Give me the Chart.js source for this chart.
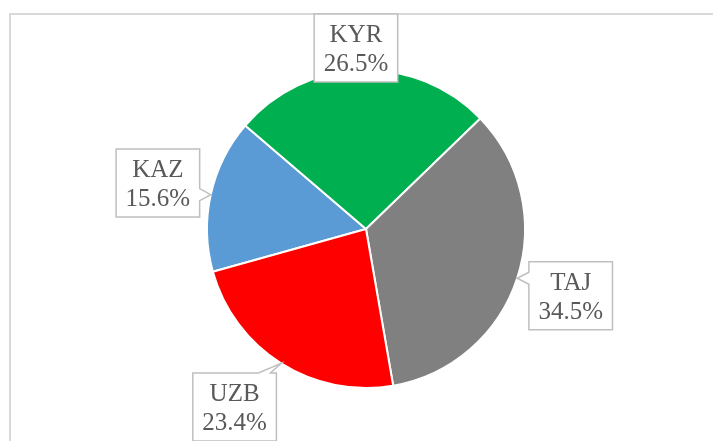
<!DOCTYPE html>
<html lang="en">
<head>
  <meta charset="utf-8" />
  <title>Pie chart</title>
  <style>
    html, body { margin: 0; padding: 0; background: #fff; }
    #wrap { width: 713px; height: 441px; }
  </style>
  <script src="https://cdn.jsdelivr.net/npm/chart.js"></script>
</head>
<body>
  <div id="wrap"><canvas id="pie" width="713" height="441"></canvas></div>
  <script>
    const labels = ['KAZ', 'KYR', 'TAJ', 'UZB'];
    const shares = [15.6, 26.5, 34.5, 23.4];
    const colors = ['#5B9BD5', '#00B050', '#808080', '#FF0000'];

    const FONT = '25px "Liberation Serif", "Times New Roman", serif';
    const LINE_H = 29;

    // outer frame of the chart area (only top and left edges are visible)
    const framePlugin = {
      id: 'frame',
      beforeDraw(chart) {
        const ctx = chart.ctx;
        ctx.save();
        ctx.strokeStyle = '#d9d9d9';
        ctx.lineWidth = 2;
        ctx.beginPath();
        ctx.moveTo(10, chart.height + 5);
        ctx.lineTo(10, 14);
        ctx.lineTo(chart.width + 5, 14);
        ctx.stroke();
        ctx.restore();
      }
    };

    // callout boxes: name + percent, placed outside the slice
    const calloutPlugin = {
      id: 'callouts',
      afterDatasetsDraw(chart, args, opts) {
        const ctx = chart.ctx;
        const meta = chart.getDatasetMeta(0);
        const nudge = opts.nudge || [];
        ctx.save();
        ctx.font = FONT;
        meta.data.forEach((arc, i) => {
          const p = arc.getProps(['x', 'y', 'startAngle', 'endAngle', 'outerRadius'], true);
          const mid = (p.startAngle + p.endAngle) / 2;
          const ux = Math.cos(mid), uy = Math.sin(mid);
          const lines = [labels[i], shares[i].toFixed(1) + '%'];
          const tw = Math.max(...lines.map(s => ctx.measureText(s).width));
          const w = tw + 19, h = 68;
          const ext = Math.abs(ux) * w / 2 + Math.abs(uy) * h / 2;
          const d = p.outerRadius + 6 + ext;
          let cx = p.x + ux * d, cy = p.y + uy * d;
          // keep inside frame
          if (cy - h / 2 < 14) cy = 14 + h / 2;
          if (cy + h / 2 > chart.height) cy = chart.height - h / 2;
          if (nudge[i]) { cx += nudge[i][0]; cy += nudge[i][1]; }
          const L = cx - w / 2, R = cx + w / 2, T = cy - h / 2, B = cy + h / 2;
          const tx = p.x + ux * p.outerRadius, ty = p.y + uy * p.outerRadius;

          let side = null;
          if (ty < T) side = 'top';
          else if (ty > B) side = 'bottom';
          else if (tx > R) side = 'right';
          else if (tx < L) side = 'left';
          const nw = 6, m = 12;
          const clampX = v => Math.min(Math.max(v, L + m), R - m);
          const clampY = v => Math.min(Math.max(v, T + m), B - m);

          ctx.beginPath();
          ctx.moveTo(L, T);
          if (side === 'top') {
            const nx = clampX(tx);
            ctx.lineTo(nx - nw, T); ctx.lineTo(tx, ty); ctx.lineTo(nx + nw, T);
          }
          ctx.lineTo(R, T);
          if (side === 'right') {
            const ny = clampY(ty);
            ctx.lineTo(R, ny - nw); ctx.lineTo(tx, ty); ctx.lineTo(R, ny + nw);
          }
          ctx.lineTo(R, B);
          if (side === 'bottom') {
            const nx = clampX(tx);
            ctx.lineTo(nx + nw, B); ctx.lineTo(tx, ty); ctx.lineTo(nx - nw, B);
          }
          ctx.lineTo(L, B);
          if (side === 'left') {
            const ny = clampY(ty);
            ctx.lineTo(L, ny + nw); ctx.lineTo(tx, ty); ctx.lineTo(L, ny - nw);
          }
          ctx.closePath();
          ctx.fillStyle = '#ffffff';
          ctx.fill();
          ctx.strokeStyle = '#bfbfbf';
          ctx.lineWidth = 1.5;
          ctx.stroke();

          ctx.fillStyle = '#595959';
          ctx.textAlign = 'center';
          ctx.textBaseline = 'alphabetic';
          ctx.fillText(lines[0], cx, cy - 6);
          ctx.fillText(lines[1], cx, cy + 23);
        });
        ctx.restore();
      }
    };

    new Chart(document.getElementById('pie'), {
      type: 'pie',
      data: {
        labels: labels,
        datasets: [{
          data: shares,
          backgroundColor: colors,
          borderColor: '#ffffff',
          borderWidth: 2
        }]
      },
      options: {
        responsive: false,
        animation: false,
        rotation: 254.4,
        layout: { padding: { left: 206, right: 187, top: 69, bottom: 52 } },
        plugins: {
          legend: { display: false },
          tooltip: { enabled: false },
          callouts: { nudge: [null, [-4, 0], null, [-16, 0]] }
        }
      },
      plugins: [framePlugin, calloutPlugin]
    });
  </script>
</body>
</html>
